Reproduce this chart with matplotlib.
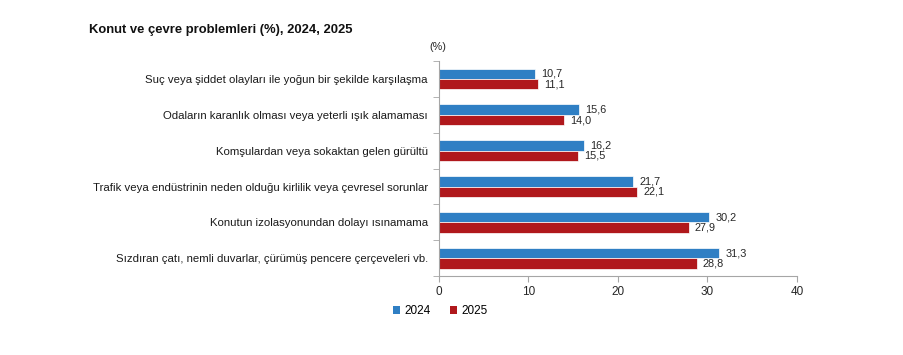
import numpy as np
from matplotlib import pyplot as plt
from matplotlib.patches import Patch

plt.rcParams['font.family'] = ['Liberation Sans', 'DejaVu Sans']

categories = [
    'Suç veya şiddet olayları ile yoğun bir şekilde karşılaşma',
    'Odaların karanlık olması veya yeterli ışık alamaması',
    'Komşulardan veya sokaktan gelen gürültü',
    'Trafik veya endüstrinin neden olduğu kirlilik veya çevresel sorunlar',
    'Konutun izolasyonundan dolayı ısınamama',
    'Sızdıran çatı, nemli duvarlar, çürümüş pencere çerçeveleri vb.',
]
values_2024 = [10.7, 15.6, 16.2, 21.7, 30.2, 31.3]
values_2025 = [11.1, 14.0, 15.5, 22.1, 27.9, 28.8]
years = ['2024', '2025']
x_ticks = [0, 10, 20, 30, 40]

blue = '#2f7fc4'
red = '#b0181c'
axis_grey = '#a6a6a6'

fig = plt.figure(figsize=(9.04, 3.55), dpi=100)
ax = fig.add_axes([0.4856, 0.222, 0.3960, 0.606])

y = np.arange(len(categories))
h = 0.29
ax.barh(y - h / 2, values_2024, height=h, color=blue, edgecolor='white', linewidth=0.5)
ax.barh(y + h / 2, values_2025, height=h, color=red, edgecolor='white', linewidth=0.5)

# value labels next to the bars
for i in range(len(categories)):
    ax.text(values_2024[i] + 0.7, y[i] - h / 2, f'{values_2024[i]:.1f}'.replace('.', ','),
            va='center', ha='left', fontsize=7.8, color='#262626')
    ax.text(values_2025[i] + 0.7, y[i] + h / 2, f'{values_2025[i]:.1f}'.replace('.', ','),
            va='center', ha='left', fontsize=7.8, color='#262626')

ax.set_xlim(0, 40)
ax.set_ylim(len(categories) - 0.5, -0.5)
ax.set_xticks(x_ticks)
ax.set_xticklabels([str(t) for t in x_ticks], fontsize=8.5, color='#262626')
ax.set_yticks(y)
ax.set_yticklabels(categories, fontsize=8.2, color='#1a1a1a')
ax.tick_params(axis='y', length=0, pad=8)
ax.set_yticks(np.arange(-0.5, len(categories), 1), minor=True)
ax.tick_params(axis='y', which='minor', length=4, color=axis_grey, direction='out')
ax.tick_params(axis='x', length=4, color=axis_grey, direction='out', pad=3)

for s in ['top', 'right']:
    ax.spines[s].set_visible(False)
for s in ['left', 'bottom']:
    ax.spines[s].set_color(axis_grey)
    ax.spines[s].set_linewidth(0.8)

fig.text(0.0985, 0.915, 'Konut ve çevre problemleri (%), 2024, 2025',
         fontsize=9.4, fontweight='bold', ha='left', va='center', color='#111111')
fig.text(0.484, 0.868, '(%)', fontsize=7.8, ha='center', va='center', color='#262626')

handles = [Patch(facecolor=blue), Patch(facecolor=red)]
fig.legend(handles, years, loc='center', bbox_to_anchor=(0.487, 0.123), ncol=2,
           frameon=False, fontsize=8.5, handlelength=0.6, handleheight=0.6,
           handletextpad=0.4, columnspacing=1.6)

fig.savefig('out.png', dpi=100)
